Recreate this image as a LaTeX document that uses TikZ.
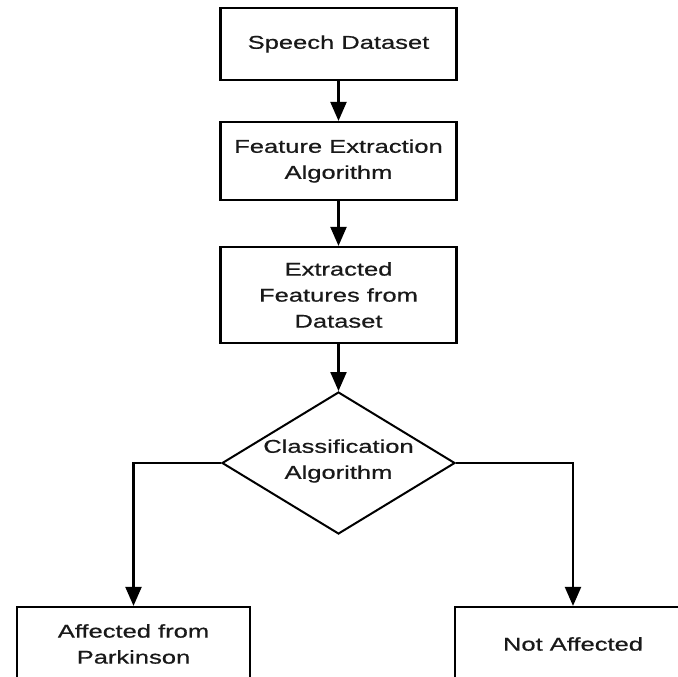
\documentclass[tikz,border=0pt]{standalone}
\usepackage{fontspec}
\setmainfont[FakeStretch=1.38,FakeBold=0.6]{Liberation Sans}
\usetikzlibrary{shapes.geometric,arrows.meta}
\tikzset{
  txt/.style={align=center, font=\fontsize{18.5}{26}\selectfont, text=black!90},
  box/.style={txt, draw=black, line width=2.2pt, rectangle, inner sep=0pt,
    minimum width=236pt},
  decide/.style={draw=black, line width=2pt, diamond, inner sep=0pt,
    minimum width=233pt, minimum height=142pt},
  flow/.style={line width=2.2pt, -{Triangle[length=19pt,width=16pt]}}
}
\begin{document}
\begin{tikzpicture}[x=1pt,y=-1pt]
\useasboundingbox (0,0) rectangle (678,677);
\clip (0,0) rectangle (678,677);
\fill[white] (0,0) rectangle (678,677);
\node[box, minimum height=72pt] (ds) at (338.5,44) {Speech Dataset};
\node[box, minimum height=78pt] (fe) at (338.5,161) {Feature Extraction\\Algorithm};
\node[box, minimum height=96pt] (ef) at (338.5,295) {Extracted\\Features from\\Dataset};
\node[decide] (cls) at (338.5,463) {};
\node[txt, inner sep=0pt] (clstext) at (338.5,461) {Classification\\Algorithm};
\node[box, minimum height=74pt, minimum width=233pt] (aff) at (133.5,644) {Affected from\\Parkinson};
\node[box, minimum height=74pt] (na) at (573,644) {Not Affected};
\draw[flow] (ds) -- (fe);
\draw[flow] (fe) -- (ef);
\draw[flow] (ef) -- (cls.north);
\draw[flow] (cls.west) -| (aff.north);
\draw[flow] (cls.east) -| (na.north);
\end{tikzpicture}
\end{document}
